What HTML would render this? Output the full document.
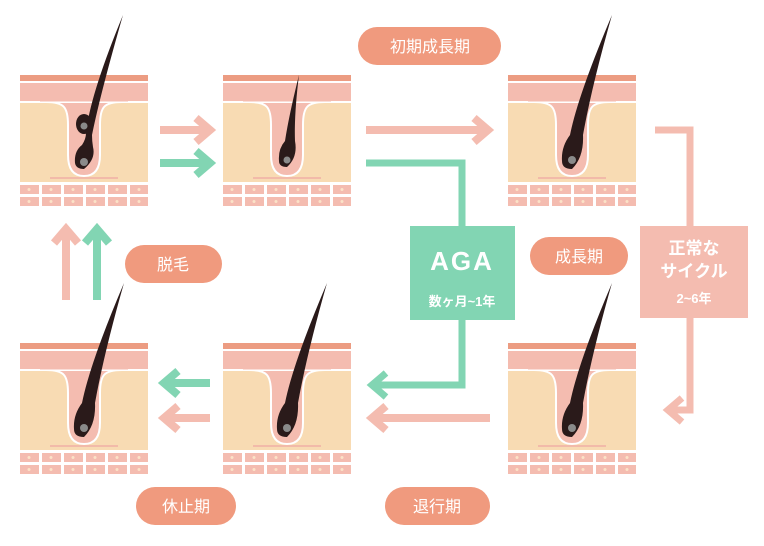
<!DOCTYPE html>
<html><head><meta charset="utf-8"><style>
body{margin:0;background:#fff;width:764px;height:546px;overflow:hidden}
svg{display:block}
.t{font-family:"Liberation Sans","Noto Sans CJK JP",sans-serif;fill:#fff;font-weight:bold}
</style></head><body>
<svg width="764" height="546" viewBox="0 0 764 546" xmlns="http://www.w3.org/2000/svg">
<defs>
<g id="tile">
<rect x="0" y="0" width="128" height="6" fill="#ec9c82"/>
<rect x="0" y="8" width="128" height="19" fill="#f4bcb0"/>
<rect x="0" y="27" width="128" height="80" fill="#f8dbb3"/>
<line x1="0" y1="27" x2="128" y2="27" stroke="#fff" stroke-width="2"/>
<path d="M26,27 C44,27 48,32 48,50 L48,80 Q48,101 64,101 Q80,101 80,80 L80,50 C80,32 84,27 102,27 Z" fill="#f4bcb0" stroke="#fff" stroke-width="2"/>
<rect x="20" y="20" width="88" height="6.5" fill="#f4bcb0"/>
<line x1="30" y1="103" x2="98" y2="103" stroke="#f0b0a6" stroke-width="1.5"/>
<g fill="#f4bcb0">
<rect x="0" y="110" width="19" height="9"/><rect x="22" y="110" width="19" height="9"/><rect x="44" y="110" width="19" height="9"/><rect x="66" y="110" width="19" height="9"/><rect x="88" y="110" width="19" height="9"/><rect x="110" y="110" width="18" height="9"/>
<rect x="0" y="122" width="19" height="9"/><rect x="22" y="122" width="19" height="9"/><rect x="44" y="122" width="19" height="9"/><rect x="66" y="122" width="19" height="9"/><rect x="88" y="122" width="19" height="9"/><rect x="110" y="122" width="18" height="9"/>
</g>
<g fill="#fbe3c8">
<circle cx="9" cy="114.5" r="1.5"/><circle cx="31" cy="114.5" r="1.5"/><circle cx="53" cy="114.5" r="1.5"/><circle cx="75" cy="114.5" r="1.5"/><circle cx="97" cy="114.5" r="1.5"/><circle cx="119" cy="114.5" r="1.5"/>
<circle cx="9" cy="126.5" r="1.5"/><circle cx="31" cy="126.5" r="1.5"/><circle cx="53" cy="126.5" r="1.5"/><circle cx="75" cy="126.5" r="1.5"/><circle cx="97" cy="126.5" r="1.5"/><circle cx="119" cy="126.5" r="1.5"/>
</g>
</g>
<g id="hair"><path d="M54,86 Q53,72 62,60 Q70,20 104,-60 Q84,10 75,60 Q76,82 64,94 Q54,94 54,86 Z" fill="#2a1a1a"/><circle cx="64" cy="85" r="4" fill="#8a8a8a"/></g>
</defs>

<use href="#tile" x="20" y="75"/>
<g transform="translate(20,75)"><path d="M55,88 Q54,76 62,70 Q66,64 66,58 Q70,20 103,-60 Q80,20 72,60 Q72,66 73,72 Q76,84 64,94 Q56,94 55,88Z" fill="#2a1a1a"/><circle cx="64" cy="87" r="4" fill="#8a8a8a"/><ellipse cx="64" cy="49" rx="8" ry="10" fill="#2a1a1a"/><circle cx="64" cy="51" r="3.5" fill="#8a8a8a"/></g>
<use href="#tile" x="223" y="75"/>
<g transform="translate(223,75)"><path d="M56,86 Q55,74 62,66 Q66,40 76,0 Q71,40 72,66 Q75,82 64,92 Q56,92 56,86Z" fill="#2a1a1a"/><circle cx="64" cy="85" r="3.5" fill="#8a8a8a"/></g>
<use href="#tile" x="508" y="75"/>
<use href="#hair" x="508" y="75"/>
<use href="#tile" x="20" y="343"/>
<use href="#hair" x="20" y="343"/>
<use href="#tile" x="223" y="343"/>
<use href="#hair" x="223" y="343"/>
<use href="#tile" x="508" y="343"/>
<use href="#hair" x="508" y="343"/>

<g fill="none" stroke-width="8" stroke-linejoin="miter">
<path d="M160,130 H208 M196,118 L210,130 L196,142" stroke="#f4bcb0"/>
<path d="M160,163 H208 M196,151 L210,163 L196,175" stroke="#82d5b3"/>
<path d="M366,130 H486 M474,118 L488,130 L474,142" stroke="#f4bcb0"/>
<path d="M366,163 H462 V385 H372 M386,373 L372,385 L386,397" stroke="#82d5b3" stroke-width="7"/>
<path d="M655,130 H690 V410 H668 M682,398 L668,410 L682,422" stroke="#f4bcb0" stroke-width="7"/>
<path d="M490,418 H372 M386,406 L372,418 L386,430" stroke="#f4bcb0"/>
<path d="M210,383 H164 M178,371 L164,383 L178,395" stroke="#82d5b3"/>
<path d="M210,418 H164 M178,406 L164,418 L178,430" stroke="#f4bcb0"/>
<path d="M66,300 V229 M54,243 L66,229 L78,243" stroke="#f4bcb0"/>
<path d="M97,300 V229 M85,243 L97,229 L109,243" stroke="#82d5b3"/>
</g>

<rect x="410" y="226" width="105" height="94" fill="#82d5b3"/>
<text class="t" x="462" y="270" font-size="26" text-anchor="middle" letter-spacing="2">AGA</text>
<text class="t" x="462" y="306" font-size="13" text-anchor="middle">数ヶ月~1年</text>
<rect x="640" y="226" width="108" height="92" fill="#f4bcb0"/>
<text class="t" x="694" y="254" font-size="17" text-anchor="middle">正常な</text>
<text class="t" x="694" y="277" font-size="17" text-anchor="middle">サイクル</text>
<text class="t" x="694" y="303" font-size="13" text-anchor="middle">2~6年</text>

<g fill="#f09a7e">
<rect x="358" y="27" width="143" height="38" rx="19"/>
<rect x="125" y="245" width="97" height="38" rx="19"/>
<rect x="530" y="237" width="98" height="38" rx="19"/>
<rect x="136" y="487" width="100" height="38" rx="19"/>
<rect x="385" y="487" width="105" height="38" rx="19"/>
</g>
<g class="t" font-size="16" text-anchor="middle">
<text x="430" y="52" style="font-weight:normal">初期成長期</text>
<text x="173" y="270" style="font-weight:normal">脱毛</text>
<text x="579" y="262" style="font-weight:normal">成長期</text>
<text x="186" y="512" style="font-weight:normal">休止期</text>
<text x="437" y="512" style="font-weight:normal">退行期</text>
</g>
</svg>
</body></html>
